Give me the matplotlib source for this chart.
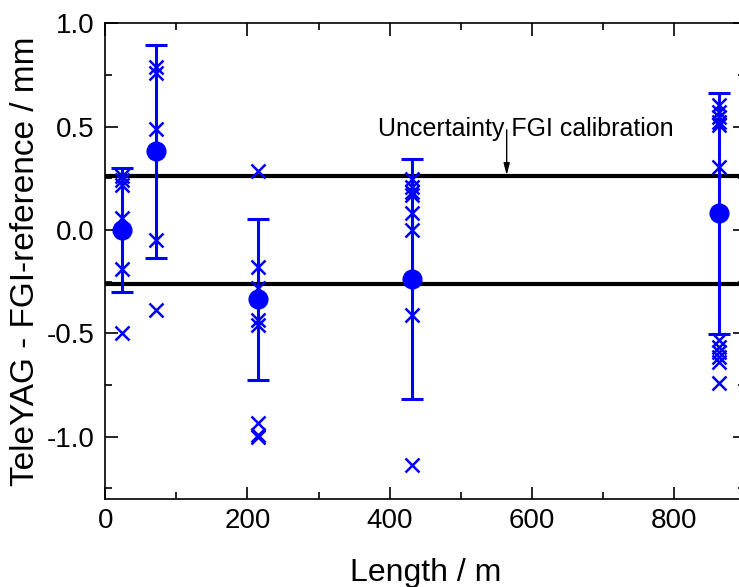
import numpy as np
import matplotlib
matplotlib.use("Agg")
import matplotlib.pyplot as plt
from matplotlib.ticker import MultipleLocator

# Lengths (m) of the five measurement groups
lengths = [23, 71, 215, 431, 863]

# Mean deviation and its error bar (mm)
means = [0.00, 0.38, -0.335, -0.238, 0.08]
errors = [0.30, 0.515, 0.39, 0.58, 0.585]

# Single measurements per length (mm)
single_23 = [0.26, 0.24, 0.22, 0.06, -0.19, -0.50]
single_71 = [0.79, 0.76, 0.49, -0.05, -0.387]
single_215 = [0.287, -0.177, -0.28, -0.435, -0.46, -0.935, -0.99, -1.0]
single_431 = [0.245, 0.21, 0.185, 0.17, 0.08, 0.0, -0.41, -1.137]
single_863 = [0.605, 0.572, 0.548, 0.524, 0.508, 0.303,
              -0.532, -0.564, -0.589, -0.613, -0.637, -0.742]
singles = [single_23, single_71, single_215, single_431, single_863]

# Calibration uncertainty band (mm)
calib_uncertainty = 0.26

plt.rcParams['font.family'] = ['Liberation Sans', 'DejaVu Sans']

fig = plt.figure(figsize=(7.39, 5.87), dpi=100)
ax = fig.add_axes([0.1425, 0.1504, 0.8658, 0.8099])

blue = '#0000ff'

# uncertainty lines
for v in (calib_uncertainty, -calib_uncertainty):
    ax.axhline(v, color='black', linewidth=3.0, zorder=1)

# single measurements
for x, vals in zip(lengths, singles):
    ax.plot([x] * len(vals), vals, linestyle='none', marker='x',
            markersize=10, markeredgewidth=1.8, color=blue, zorder=3)

# means with error bars
ax.errorbar(lengths, means, yerr=errors, fmt='o', color=blue,
            markersize=13.5, elinewidth=2.2, capsize=8, capthick=2.2, zorder=4)

ax.text(591, 0.455, 'Uncertainty FGI calibration', ha='center',
        va='baseline', fontsize=18)
ax.annotate('', xy=(564.6, calib_uncertainty + 0.005), xytext=(564.6, 0.485),
            arrowprops=dict(arrowstyle='-|>,head_width=0.18,head_length=0.7',
                            color='black', lw=1.0, shrinkA=0, shrinkB=0))

ax.set_xlim(0, 900)
ax.set_ylim(-1.3, 1.0)
ax.xaxis.set_major_locator(MultipleLocator(200))
ax.xaxis.set_minor_locator(MultipleLocator(100))
ax.yaxis.set_major_locator(MultipleLocator(0.5))
ax.yaxis.set_minor_locator(MultipleLocator(0.25))
ax.yaxis.set_major_formatter(plt.FuncFormatter(lambda v, p: f'{v:.1f}'))

ax.tick_params(which='both', direction='in', top=True, right=True,
               width=1.2, labelsize=20)
ax.tick_params(which='major', length=9)
ax.tick_params(which='minor', length=5)
ax.tick_params(axis='x', pad=7)
ax.tick_params(axis='y', pad=8)
for s in ax.spines.values():
    s.set_linewidth(1.2)

ax.set_xlabel('Length / m', fontsize=23, labelpad=17)
ax.set_ylabel('TeleYAG - FGI-reference / mm', fontsize=24, labelpad=4)

fig.savefig('out.png', dpi=100)
